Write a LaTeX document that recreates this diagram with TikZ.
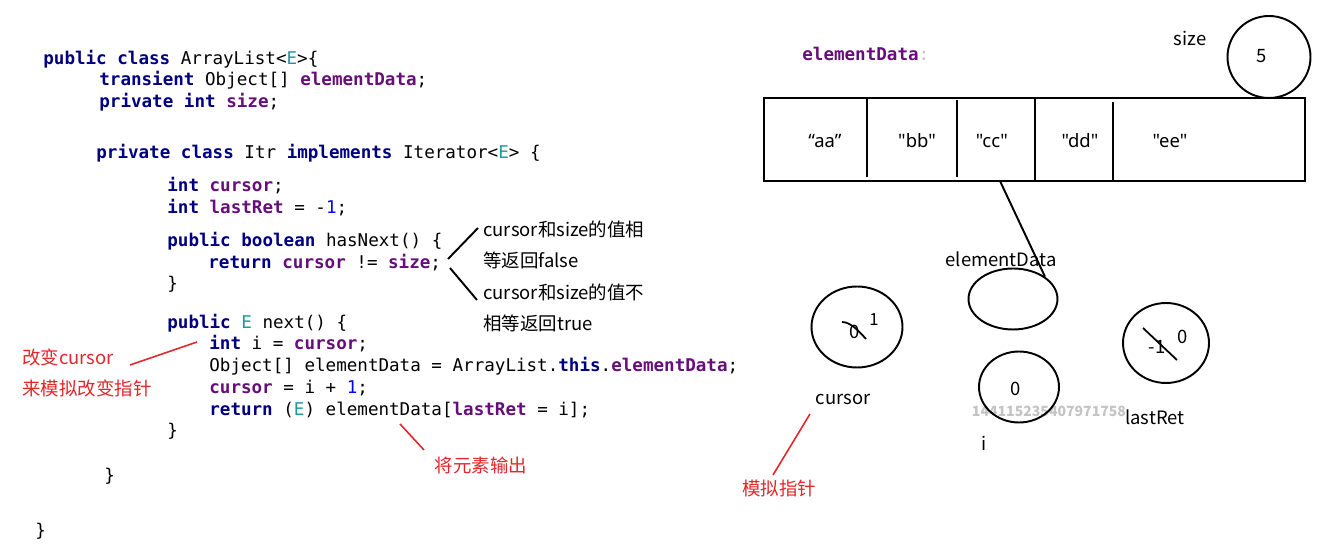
\documentclass[tikz,border=0pt]{standalone}
\usepackage{fontspec}
\setmainfont{Noto Sans CJK SC}
\newfontfamily\codefont{DejaVu Sans Mono}[WordSpace={1,0,0}]
\newfontfamily\cellfont{Noto Sans}
\usetikzlibrary{shapes.geometric}

\newcommand\kw[1]{\textcolor{kwnavy}{\bfseries #1}}
\newcommand\fd[1]{\textcolor{fdpurple}{\bfseries #1}}
\newcommand\tp[1]{\textcolor{tpteal}{#1}}
\newcommand\nm[1]{\textcolor{nmblue}{#1}}

\begin{document}
\begin{tikzpicture}[
    x=0.02cm, y=-0.02cm,
    % Estilos
    code/.style={
        anchor=base west, inner sep=0pt,
        font=\codefont\fontsize{10}{12}\selectfont
    },
    note/.style={
        inner sep=0pt, text=#1,
        font=\fontsize{10.5}{12}\selectfont
    },
    note/.default=black,
    var/.style={
        ellipse, draw=black, line width=1.1pt,
        minimum width=#1, inner sep=0pt
    },
    link/.style={
        line width=1.1pt, color=#1
    },
    link/.default=black,
    cell/.style={
        font=\cellfont\fontsize{10.5}{12}\selectfont, inner sep=0pt
    }
]

% ── Colores ──
\definecolor{kwnavy}{HTML}{000080}
\definecolor{fdpurple}{HTML}{660E7A}
\definecolor{tpteal}{HTML}{20999D}
\definecolor{nmblue}{HTML}{0000FF}
\definecolor{notered}{HTML}{E3262B}
\definecolor{markgray}{HTML}{C4C4C4}

\useasboundingbox[fill=white] (0,0) rectangle (1343,560);

% ════════════════════════════════════════
% CODIGO (columna izq)
% ════════════════════════════════════════
\node[code] (c1)  at (43, 65)  {\kw{public} \kw{class} ArrayList<\tp{E}>\{};
\node[code] (c2)  at (99, 86)  {\kw{transient} Object[] \fd{elementData};};
\node[code] (c3)  at (99, 108) {\kw{private} \kw{int} \fd{size};};
\node[code] (c4)  at (96, 159) {\kw{private} \kw{class} Itr \kw{implements} Iterator<\tp{E}> \{};
\node[code] (c5)  at (167, 192) {\kw{int} \fd{cursor};};
\node[code] (c6)  at (167, 214) {\kw{int} \fd{lastRet} = -\nm{1};};
\node[code] (c7)  at (167, 247) {\kw{public} \kw{boolean} hasNext() \{};
\node[code] (c8)  at (208, 269) {\kw{return} \fd{cursor} != \fd{size};};
\node[code] (c9)  at (167, 290) {\}};
\node[code] (c10) at (167, 329) {\kw{public} \tp{E} next() \{};
\node[code] (c11) at (209, 350) {\kw{int} i = \fd{cursor};};
\node[code] (c12) at (209, 372) {Object[] elementData = ArrayList.\kw{this}.\fd{elementData};};
\node[code] (c13) at (209, 394) {\fd{cursor} = i + \nm{1};};
\node[code] (c14) at (209, 416) {\kw{return} (\tp{E}) elementData[\fd{lastRet} = i];};
\node[code] (c15) at (167, 437) {\}};
\node[code] (c16) at (104, 482) {\}};
\node[code] (c17) at (35, 537)  {\}};

% ════════════════════════════════════════
% NOTAS hasNext
% ════════════════════════════════════════
\node[note, anchor=west] (eq1)  at (483, 229) {cursor和size的值相};
\node[note, anchor=west] (eq2)  at (483, 260) {等返回false};
\node[note, anchor=west] (neq1) at (483, 292) {cursor和size的值不};
\node[note, anchor=west] (neq2) at (483, 323) {相等返回true};

\coordinate (forkup)  at (448, 259);
\coordinate (forkdn)  at (450, 268);
\coordinate (eqtip)   at (478, 228);
\coordinate (neqtip)  at (477, 300);
\draw[link] (forkup) -- (eqtip);
\draw[link] (forkdn) -- (neqtip);

% ════════════════════════════════════════
% NOTAS rojas
% ════════════════════════════════════════
\node[note=notered, anchor=west] (chg1) at (22, 357) {改变cursor};
\node[note=notered, anchor=west] (chg2) at (22, 388) {来模拟改变指针};
\node[note=notered] (out) at (481, 465) {将元素输出};
\node[note=notered] (ptr) at (779, 488) {模拟指针};

\coordinate (chgtip) at (130, 365);
\coordinate (chgend) at (197, 342);
\coordinate (outtip) at (424, 450);
\coordinate (outend) at (400, 424);
\coordinate (ptrtip) at (773, 475);
\coordinate (ptrend) at (810, 414);
\draw[link=notered, line width=0.9pt] (chgtip) -- (chgend);
\draw[link=notered, line width=0.9pt] (outtip) -- (outend);
\draw[link=notered, line width=0.9pt] (ptrtip) -- (ptrend);

% ════════════════════════════════════════
% ARRAY elementData (arriba der)
% ════════════════════════════════════════
\node[code, anchor=west] (edname) at (802, 54)
    {\fd{elementData}\textcolor{markgray}{:}};

\node[draw, line width=1.4pt, minimum width=10.82cm, minimum height=1.66cm,
      inner sep=0pt] (arr) at (1034.5, 139.5) {};
\draw[line width=1.4pt] (867, 98)  -- (867, 177);
\draw[line width=1.4pt] (957, 100) -- (957, 177);
\draw[line width=1.4pt] (1035, 98) -- (1035, 181);
\draw[line width=1.4pt] (1113, 102) -- (1113, 181);

\node[cell] (aa) at (825, 141)  {“aa”};
\node[cell] (bb) at (917, 141)  {"bb"};
\node[cell] (cc) at (992, 141)  {"cc"};
\node[cell] (dd) at (1080, 141) {"dd"};
\node[cell] (ee) at (1170, 141) {"ee"};

% size
\node[note] (sizelbl) at (1190, 38) {size};
\node[var=1.66cm, minimum height=1.64cm] (sizec) at (1269, 57) {};
\node[note] (sizeval) at (1262, 56) {5};

% ════════════════════════════════════════
% VARIABLES del iterador
% ════════════════════════════════════════
\node[font=\bfseries\fontsize{8}{10}\selectfont, text=markgray, inner sep=0pt]
    (mark) at (1049, 411) {144115235407971758};

\node[note] (edlbl) at (1001, 259) {elementData};
\node[var=1.78cm, minimum height=1.22cm] (edc) at (1013, 299) {};
\coordinate (arrfoot) at (1000, 181);
\draw[link] (arrfoot) -- (edc.35);

% cursor
\node[var=1.82cm, minimum height=1.62cm] (curc) at (857, 327) {};
\node[note] (curold) at (855, 332) {0};
\node[note, font=\fontsize{9.5}{11}\selectfont] (curnew) at (874, 320) {1};
\coordinate (curs1) at (842, 322);
\coordinate (curs2) at (866, 339);
\draw[link, line width=1pt] (curs1) .. controls (850, 322) and (858, 330) .. (curs2);
\node[note] (curlbl) at (843, 399) {cursor};

% i
\node[var=1.6cm, minimum height=1.42cm] (ic) at (1019, 387) {};
\node[note] (ival) at (1016, 389) {0};
\node[note] (ilbl) at (984, 443) {i};

% lastRet
\node[var=1.72cm, minimum height=1.6cm] (lrc) at (1166, 343) {};
\node[note] (lrold) at (1157, 347) {-1};
\node[note] (lrnew) at (1183, 337) {0};
\coordinate (lrs1) at (1143, 328);
\coordinate (lrs2) at (1177, 360);
\draw[link, line width=1pt] (lrs1) -- (lrs2);
\node[note] (lrlbl) at (1155, 417) {lastRet};

\end{tikzpicture}
\end{document}
